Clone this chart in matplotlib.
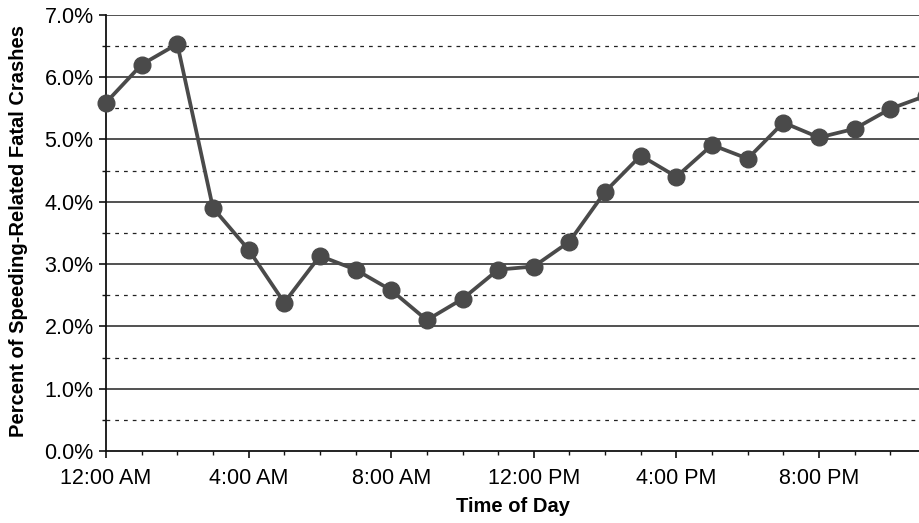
import numpy as np
import matplotlib.pyplot as plt
from matplotlib.ticker import MultipleLocator, FuncFormatter

plt.rcParams['font.family'] = ['Liberation Sans', 'DejaVu Sans']

# datos: hora del día y porcentaje de choques fatales relacionados con velocidad
hours = list(range(24))
pct = [5.59, 6.20, 6.53, 3.90, 3.23, 2.38, 3.13, 2.91, 2.58, 2.10, 2.44, 2.91,
       2.96, 3.36, 4.16, 4.74, 4.40, 4.91, 4.69, 5.27, 5.03, 5.17, 5.49, 5.70]
tick_hours = [0, 4, 8, 12, 16, 20]
tick_labels = ['12:00 AM', '4:00 AM', '8:00 AM', '12:00 PM', '4:00 PM', '8:00 PM']

fig = plt.figure(figsize=(9.19, 5.23), dpi=100)
ax = fig.add_axes([106/919, 1-451/523, 1-106/919, (451-14.7)/523])

# rejilla: líneas sólidas en enteros, punteadas en medios
for v in np.arange(1, 7.01, 1):
    ax.axhline(v, color='#222222', lw=1.1, zorder=1)
for v in np.arange(0.5, 7, 1):
    ax.axhline(v, color='#222222', lw=0.9, ls=(0, (3, 4)), zorder=1)

ax.plot(hours, pct, color='#4a4a4a', lw=2.7, marker='o', ms=12, zorder=3,
        clip_on=False)

ax.set_xlim(0, (919-106)/35.65)
ax.set_ylim(0, 7)
ax.set_xticks(tick_hours)
ax.set_xticklabels(tick_labels)
ax.xaxis.set_minor_locator(MultipleLocator(1))
ax.yaxis.set_major_locator(MultipleLocator(1))
ax.yaxis.set_minor_locator(MultipleLocator(0.5))
ax.yaxis.set_major_formatter(FuncFormatter(lambda v, p: '%.1f%%' % v))

for s in ['top', 'right']:
    ax.spines[s].set_visible(False)
for s in ['left', 'bottom']:
    ax.spines[s].set_color('#111111')
    ax.spines[s].set_linewidth(1.3)

ax.tick_params(axis='both', which='major', length=5, width=1.2, color='#111111',
               labelsize=15.5, pad=4)
ax.tick_params(axis='both', which='minor', length=3, width=1.0, color='#111111')
ax.tick_params(axis='x', which='major', pad=7)

ax.set_xlabel('Time of Day', fontsize=14.5, fontweight='bold', labelpad=6)
ax.set_ylabel('Percent of Speeding-Related Fatal Crashes', fontsize=14.5,
              fontweight='bold')
ax.yaxis.set_label_coords(-0.096, 0.505)

fig.savefig('out.png', dpi=100)
